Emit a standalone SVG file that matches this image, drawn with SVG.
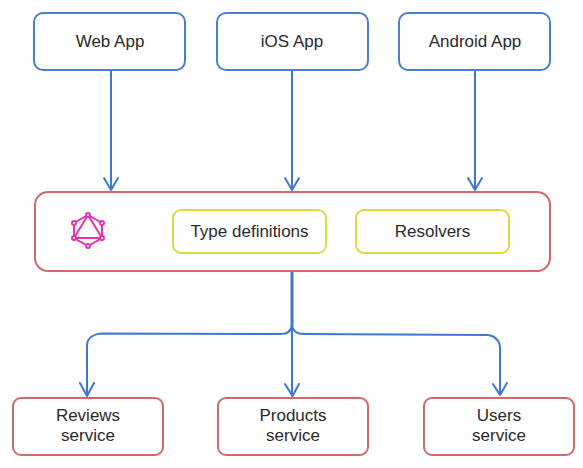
<svg xmlns="http://www.w3.org/2000/svg" width="583" height="468" viewBox="0 0 583 468">
<style>
text{font-family:"Liberation Sans",Arial,sans-serif;font-size:17px;fill:#2a2a2a;text-anchor:middle}
rect{fill:#fff;stroke-width:2}
.b{stroke:#4a7fd0}
.r{stroke:#cf6a68}
.y{stroke:#d9dc3c}
.c{fill:none;stroke:#3f78d2;stroke-width:2;stroke-linecap:round;stroke-linejoin:round}
.g{fill:none;stroke:#e535ab;stroke-width:2}
.n{fill:#fff;stroke:#e535ab;stroke-width:2}
</style>
<rect width="583" height="468" style="fill:#fff;stroke:none"/>
<g id="connectors">
<path class="c" d="M111 71V190M104 178L111 190L118 178"/>
<path class="c" d="M292 71V190M285 178L292 190L299 178"/>
<path class="c" d="M475 71V190M468 178L475 190L482 178"/>
<path class="c" style="stroke-width:3" d="M292 272V325"/>
<path class="c" d="M292 325C291 332 287 334 281 334L102 333.500C92 334 87 339 87 346V396M80 383L87 396L94 383"/>
<path class="c" d="M292 325V396M285 384L292.500 396L299 384"/>
<path class="c" d="M292 325C293 332 297 334 304 334L488 335C495 336 500 341 500 348V395M493 384L500 395L507 383"/>
</g>
<g id="web-app"><rect class="b" x="34" y="13" width="151" height="57" rx="9"/><text x="110" y="47">Web App</text></g>
<g id="ios-app"><rect class="b" x="217" y="13" width="151" height="57" rx="9"/><text x="292" y="47">iOS App</text></g>
<g id="android-app"><rect class="b" x="399" y="13" width="151" height="57" rx="9"/><text x="475" y="47">Android App</text></g>
<g id="graphql-server"><rect class="r" x="35" y="192" width="515" height="79" rx="13"/>
<g id="graphql-logo">
<path class="g" d="M88 215L102 223V238L88 246L74 238V223ZM88 215L74 238H102Z"/>
<circle class="n" cx="88" cy="215" r="2"/><circle class="n" cx="102" cy="223" r="2"/><circle class="n" cx="102" cy="238" r="2"/><circle class="n" cx="88" cy="246" r="2"/><circle class="n" cx="74" cy="238" r="2"/><circle class="n" cx="74" cy="223" r="2"/>
</g></g>
<g id="type-definitions"><rect class="y" x="173" y="210" width="153" height="43" rx="8"/><text x="249.500" y="237">Type definitions</text></g>
<g id="resolvers"><rect class="y" x="356" y="210" width="153" height="43" rx="8"/><text x="432.500" y="237">Resolvers</text></g>
<g id="reviews-service"><rect class="r" x="13" y="398" width="150" height="57" rx="8"/><text x="88" y="421">Reviews</text><text x="88" y="441">service</text></g>
<g id="products-service"><rect class="r" x="218" y="398" width="150" height="57" rx="8"/><text x="293" y="421">Products</text><text x="293" y="441">service</text></g>
<g id="users-service"><rect class="r" x="424" y="398" width="150" height="57" rx="8"/><text x="499" y="421">Users</text><text x="499" y="441">service</text></g>
</svg>
